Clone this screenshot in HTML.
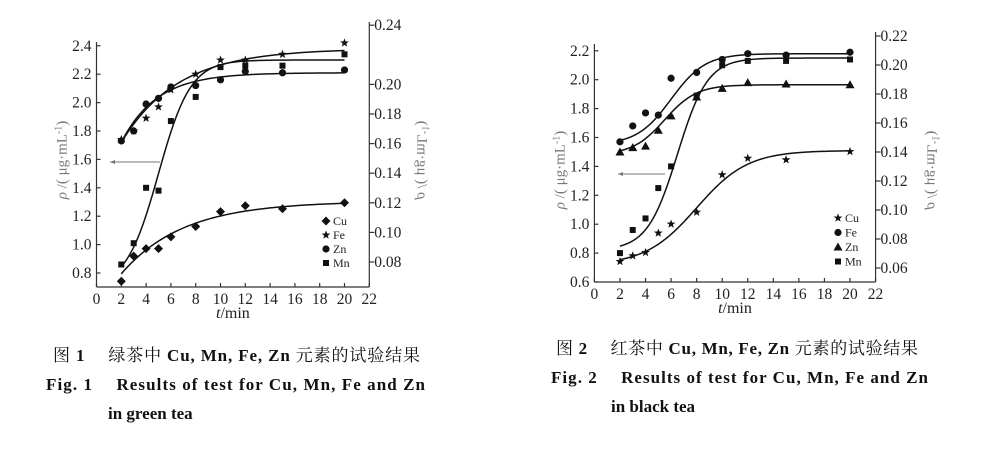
<!DOCTYPE html>
<html><head><meta charset="utf-8">
<style>
body{margin:0;background:#fff;width:992px;height:449px;overflow:hidden}
svg{display:block}
.t{font-family:"Liberation Serif","Noto Serif CJK SC",serif;fill:#222}
.cap{font-family:"Liberation Serif","Noto Serif CJK SC",serif;font-size:17px;fill:#111}
</style></head>
<body>
<svg id="svg" width="992" height="449">
<g id="c1"></g>
<g id="c2"></g>
<text class="cap" x="53" y="361" textLength="367" lengthAdjust="spacing">图 <tspan font-weight="bold">1</tspan>　 绿茶中 <tspan font-weight="bold">Cu, Mn, Fe, Zn</tspan> 元素的试验结果</text>
<text class="cap" x="46" y="390" textLength="379" lengthAdjust="spacing" font-weight="bold">Fig. 1　 Results of test for Cu,  Mn,  Fe and Zn</text>
<text class="cap" x="108" y="419" font-weight="bold">in green tea</text>
<text class="cap" x="556" y="354" textLength="362" lengthAdjust="spacing">图 <tspan font-weight="bold">2</tspan>　 红茶中 <tspan font-weight="bold">Cu, Mn, Fe, Zn</tspan> 元素的试验结果</text>
<text class="cap" x="551" y="383" textLength="377" lengthAdjust="spacing" font-weight="bold">Fig. 2　 Results of test for Cu,  Mn,  Fe and Zn</text>
<text class="cap" x="611" y="412" font-weight="bold">in black tea</text>
</svg>
<script>
// ---- Chart 1 (green tea) data ----
const times = [2,3,4,5,6,8,10,12,15,20];
const g_Cu = [0.067,0.084,0.089,0.089,0.097,0.104,0.114,0.118,0.116,0.120];
const g_Fe = [1.74,1.80,1.89,1.97,2.09,2.20,2.30,2.30,2.34,2.42];
const g_Zn = [1.73,1.80,1.99,2.03,2.11,2.12,2.16,2.22,2.21,2.23];
const g_Mn = [0.86,1.01,1.40,1.38,1.87,2.04,2.25,2.26,2.26,2.34];
const g_leftTicks = [0.8,1.0,1.2,1.4,1.6,1.8,2.0,2.2,2.4];
const g_rightTicks = [0.08,0.10,0.12,0.14,0.16,0.18,0.20,0.24];
const xTicks = [0,2,4,6,8,10,12,14,16,18,20,22];
// fit params
const g_fitCu = ['exp',0.072,0.121,0.2];
const g_fitFe = ['exp',1.72,2.38,0.218];
const g_fitZn = ['exp',1.72,2.21,0.35];
const g_fitMn = ['log',0.7,2.30,5.0,0.77];
// ---- Chart 2 (black tea) data ----
const b_Cu = [0.0645,0.0684,0.0707,0.0841,0.0903,0.0985,0.1243,0.1357,0.1346,0.1403];
const b_Fe = [1.57,1.68,1.77,1.755,2.01,2.05,2.14,2.18,2.17,2.19];
const b_Zn = [1.50,1.53,1.54,1.65,1.75,1.88,1.94,1.98,1.97,1.965];
const b_Mn = [0.80,0.96,1.04,1.25,1.40,1.89,2.10,2.13,2.13,2.14];
const b_leftTicks = [0.6,0.8,1.0,1.2,1.4,1.6,1.8,2.0,2.2];
const b_rightTicks = [0.06,0.08,0.10,0.12,0.14,0.16,0.18,0.20,0.22];
const b_fitCu = ['log',0.062,0.141,8,0.5];
const b_fitFe = ['log',1.55,2.18,6,0.75];
const b_fitZn = ['log',1.48,1.965,5.5,0.8];
const b_fitMn = ['log',0.82,2.15,6.5,0.85];

const NS='http://www.w3.org/2000/svg';
function mk(p,tag,attrs){const e=document.createElementNS(NS,tag);for(const k in attrs)e.setAttribute(k,attrs[k]);p.appendChild(e);return e;}
function fit(f,t){return f[0]==='exp'?f[1]+(f[2]-f[1])*(1-Math.exp(-f[3]*(t-2))):f[1]+(f[2]-f[1])/(1+Math.exp(-f[4]*(t-f[3])));}

function marker(g,type,x,y){
  let e;
  if(type==='diamond'){e=mk(g,'polygon',{points:`${x},${y-4.5} ${x+4.5},${y} ${x},${y+4.5} ${x-4.5},${y}`,fill:'#111'});}
  else if(type==='circle'){e=mk(g,'circle',{cx:x,cy:y,r:3.6,fill:'#111'});}
  else if(type==='square'){e=mk(g,'rect',{x:x-3,y:y-3,width:6,height:6,fill:'#111'});}
  else if(type==='tri'){e=mk(g,'polygon',{points:`${x},${y-4.5} ${x+4.5},${y+3.5} ${x-4.5},${y+3.5}`,fill:'#111'});}
  else {let p=[];for(let i=0;i<10;i++){const r=i%2?1.9:4.6,a=-Math.PI/2+i*Math.PI/5;p.push((x+r*Math.cos(a)).toFixed(2)+','+(y+r*Math.sin(a)).toFixed(2));}
    e=mk(g,'polygon',{points:p.join(' '),fill:'#111'});}
  
  
  return e;
}

function chart(g,cfg){
  const X=t=>cfg.x0+t*cfg.xs;
  const YL=v=>cfg.yl0-(v-cfg.vl0)*cfg.yls;
  const YR=v=>cfg.yr0-(v-cfg.vr0)*cfg.yrs;
  const ax=mk(g,'g',{stroke:'#333','stroke-width':1.2,fill:'none'});
  
  
  mk(ax,'line',{x1:cfg.x0,y1:cfg.bottom,x2:X(22),y2:cfg.bottom});
  mk(ax,'line',{x1:cfg.x0,y1:cfg.bottom,x2:cfg.x0,y2:cfg.ltop});
  mk(ax,'line',{x1:X(22),y1:cfg.bottom,x2:X(22),y2:cfg.rtop});
  xTicks.forEach(t=>{
    mk(ax,'line',{x1:X(t),y1:cfg.bottom,x2:X(t),y2:cfg.bottom-4});
    const tx=mk(g,'text',{x:X(t),y:cfg.bottom+17,'text-anchor':'middle','font-size':15.5,class:'t'});tx.textContent=t;
    
    
  });
  cfg.lt.forEach(v=>{
    mk(ax,'line',{x1:cfg.x0,y1:YL(v),x2:cfg.x0+4,y2:YL(v)});
    const tx=mk(g,'text',{x:cfg.x0-5,y:YL(v)+5,'text-anchor':'end','font-size':15.5,class:'t'});tx.textContent=v.toFixed(1);
    
    
  });
  cfg.rt.forEach(v=>{
    mk(ax,'line',{x1:X(22),y1:YR(v),x2:X(22)+5,y2:YR(v)});
    const tx=mk(g,'text',{x:X(22)+5,y:YR(v)+5,'font-size':15.5,class:'t'});tx.textContent=v.toFixed(2);
    
    
  });
  const xl=mk(g,'text',{x:(cfg.x0+X(22))/2,y:cfg.bottom+31,'text-anchor':'middle','font-size':16,class:'t'});
  xl.innerHTML='<tspan font-style="italic">t</tspan>/min';
  
  
  const yl=mk(g,'text',{transform:`translate(${cfg.x0-30},${cfg.lmid}) rotate(-90)`,'text-anchor':'middle','font-size':15,class:'t',style:'fill:#777'});
  yl.innerHTML='<tspan font-style="italic">ρ</tspan> /( μg·mL<tspan dy="-5" font-size="10">-1</tspan><tspan dy="5">)</tspan>';
  
  
  const yr=mk(g,'text',{transform:`translate(${X(22)+cfg.rlab},${cfg.lmid}) rotate(-90) scale(1,-1)`,'text-anchor':'middle','font-size':15,class:'t',style:'fill:#777'});
  yr.innerHTML='<tspan font-style="italic">ρ</tspan> /( μg·mL<tspan dy="-5" font-size="10">-1</tspan><tspan dy="5">)</tspan>';
  
  
  const ar=mk(g,'g',{stroke:'#777',fill:'#777'});
  
  
  mk(ar,'line',{x1:cfg.arrow[0],y1:cfg.arrow[2],x2:cfg.arrow[1],y2:cfg.arrow[2],'stroke-width':1});
  mk(ar,'polygon',{points:`${cfg.arrow[1]},${cfg.arrow[2]} ${cfg.arrow[1]+5},${cfg.arrow[2]-2} ${cfg.arrow[1]+5},${cfg.arrow[2]+2}`,stroke:'none'});
  cfg.series.forEach(s=>{
    const Y=s.right?YR:YL;
    let d='';
    for(let t=2;t<=20.001;t+=0.25){d+=(d?'L':'M')+X(t).toFixed(2)+','+Y(fit(s.fit,t)).toFixed(2);}
    const p=mk(g,'path',{d:d,stroke:'#111','stroke-width':1.5,fill:'none'});
    
    
    const mg=mk(g,'g',{});
    
    
    times.forEach((t,i)=>marker(mg,s.m,X(t),Y(s.vals[i])));
  });
  cfg.series.forEach((s,i)=>{
    const lg=mk(g,'g',{});
    
    
    const ly=cfg.leg[1]+i*cfg.leg[2];
    marker(lg,s.m,cfg.leg[0],ly);
    const tx=mk(lg,'text',{x:cfg.leg[0]+7,y:ly+4,'font-size':12,class:'t'});tx.textContent=s.name;
  });
}

chart(document.getElementById('c1'),{x0:96.5,xs:12.4,bottom:287,ltop:42,rtop:22,
  yl0:273,vl0:0.8,yls:142,yr0:262,vr0:0.08,yrs:1480,lt:g_leftTicks,rt:g_rightTicks,lmid:160,rlab:48,
  arrow:[160,110,162],leg:[326,221,14],
  series:[{name:'Cu',m:'diamond',vals:g_Cu,fit:g_fitCu,right:true},
          {name:'Fe',m:'star',vals:g_Fe,fit:g_fitFe},
          {name:'Zn',m:'circle',vals:g_Zn,fit:g_fitZn},
          {name:'Mn',m:'square',vals:g_Mn,fit:g_fitMn}]});

chart(document.getElementById('c2'),{x0:594.4,xs:12.78,bottom:282,ltop:44,rtop:32,
  yl0:282,vl0:0.6,yls:144.5,yr0:268,vr0:0.06,yrs:1450,lt:b_leftTicks,rt:b_rightTicks,lmid:170,rlab:52,
  arrow:[665,618,174],leg:[838,218,14.5],
  series:[{name:'Cu',m:'star',vals:b_Cu,fit:b_fitCu,right:true},
          {name:'Fe',m:'circle',vals:b_Fe,fit:b_fitFe},
          {name:'Zn',m:'tri',vals:b_Zn,fit:b_fitZn},
          {name:'Mn',m:'square',vals:b_Mn,fit:b_fitMn}]});
</script>
</body></html>
